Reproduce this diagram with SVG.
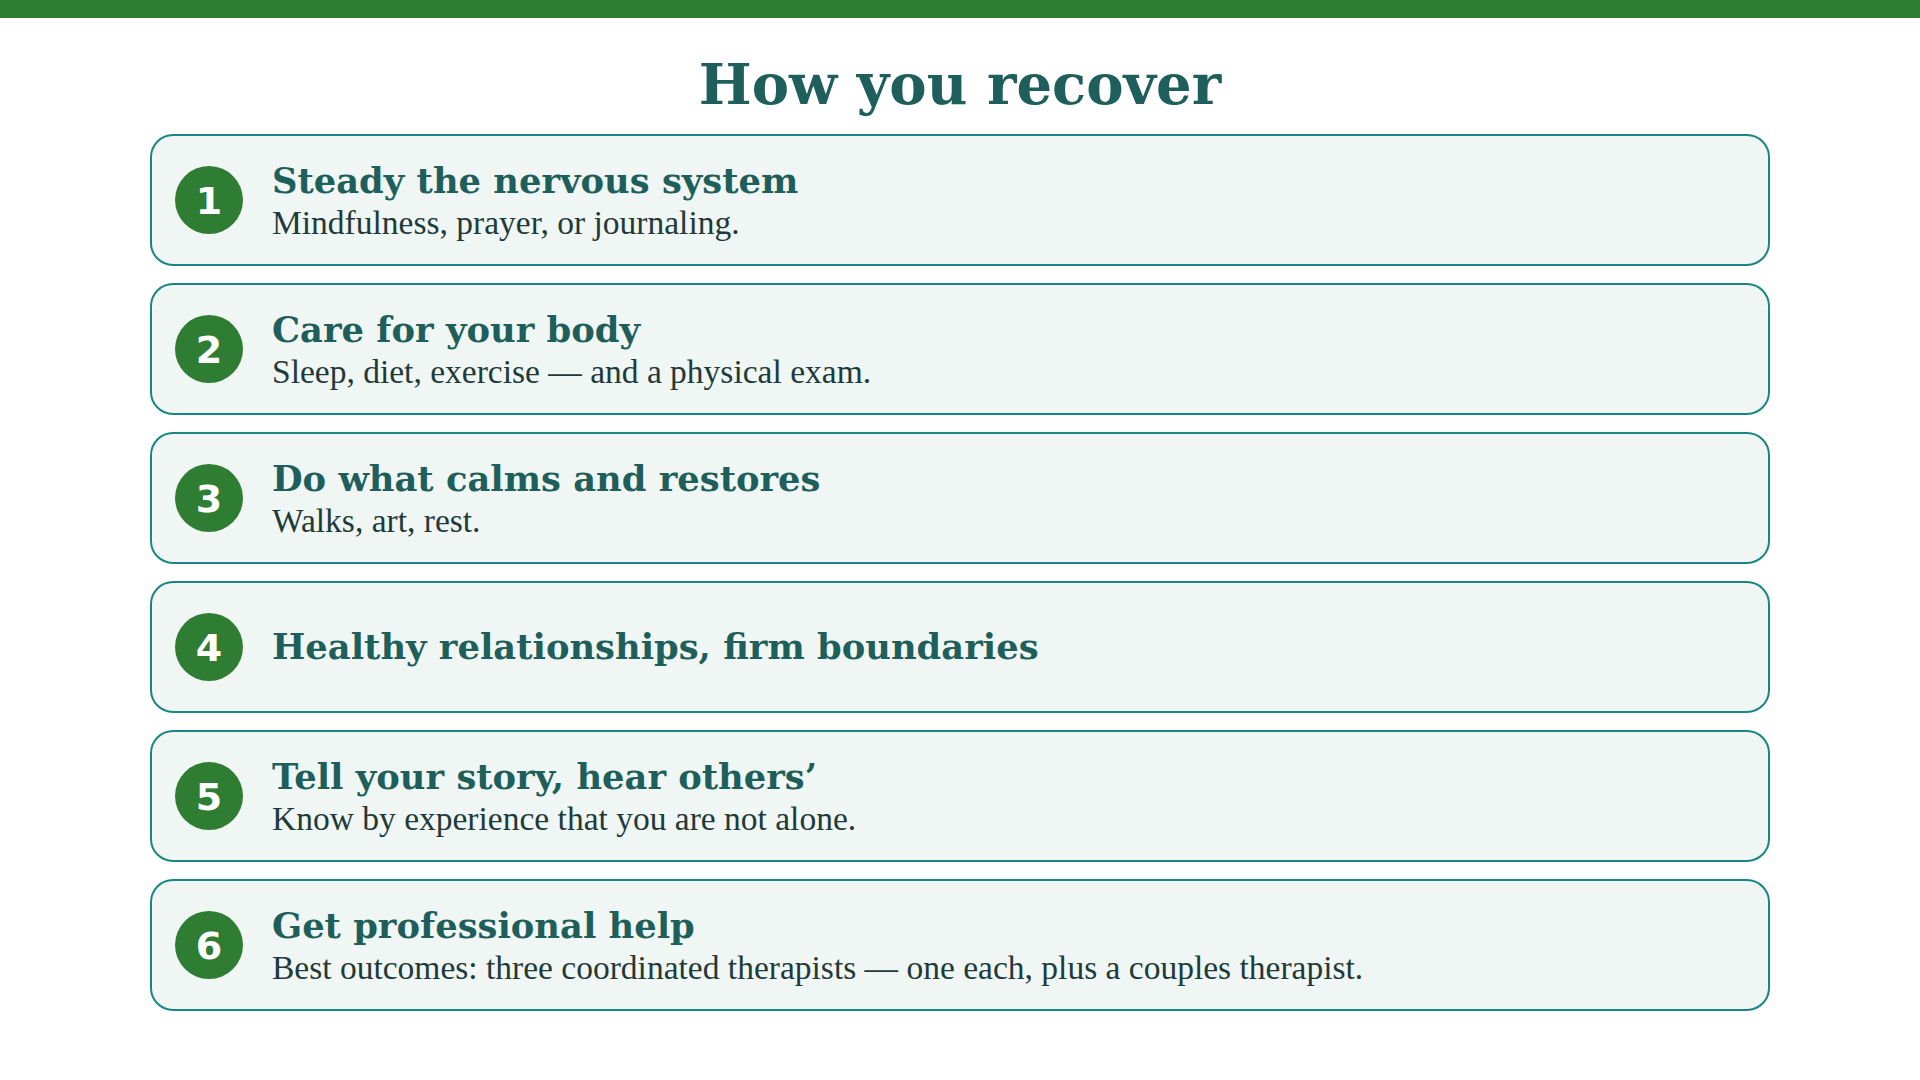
<svg xmlns="http://www.w3.org/2000/svg" width="1920" height="1080" viewBox="0 0 1920 1080">
<style>
.card{fill:#eff6f3;stroke:#1a8585;stroke-width:2}
.num{fill:#2e7d32}
.nt{font-family:"DejaVu Sans",sans-serif;font-weight:bold;font-size:38px;fill:#fff;text-anchor:middle}
.t{font-family:"DejaVu Serif","Liberation Serif",serif;font-weight:bold;font-size:35.3px;fill:#1f5f5b}
.s{font-family:"Liberation Serif",serif;font-size:33.5px;fill:#1f3a3a}
</style>
<rect x="0" y="0" width="1920" height="18" fill="#2e7d32"/>
<text x="960" y="104" text-anchor="middle" font-family="DejaVu Serif,serif" font-weight="bold" font-size="56" fill="#1f5f5b">How you recover</text>
<g id="n1"><rect class="card" x="151" y="135" width="1618" height="130" rx="22"/><circle class="num" cx="209" cy="200" r="34"/><text class="nt" x="209" y="214">1</text><text class="t" x="272" y="193">Steady the nervous system</text><text class="s" x="272" y="234">Mindfulness, prayer, or journaling.</text></g>
<g id="n2"><rect class="card" x="151" y="284" width="1618" height="130" rx="22"/><circle class="num" cx="209" cy="349" r="34"/><text class="nt" x="209" y="363">2</text><text class="t" x="272" y="342">Care for your body</text><text class="s" x="272" y="383">Sleep, diet, exercise — and a physical exam.</text></g>
<g id="n3"><rect class="card" x="151" y="433" width="1618" height="130" rx="22"/><circle class="num" cx="209" cy="498" r="34"/><text class="nt" x="209" y="512">3</text><text class="t" x="272" y="491">Do what calms and restores</text><text class="s" x="272" y="532">Walks, art, rest.</text></g>
<g id="n4"><rect class="card" x="151" y="582" width="1618" height="130" rx="22"/><circle class="num" cx="209" cy="647" r="34"/><text class="nt" x="209" y="661">4</text><text class="t" x="272" y="659">Healthy relationships, firm boundaries</text></g>
<g id="n5"><rect class="card" x="151" y="731" width="1618" height="130" rx="22"/><circle class="num" cx="209" cy="796" r="34"/><text class="nt" x="209" y="810">5</text><text class="t" x="272" y="789">Tell your story, hear others’</text><text class="s" x="272" y="830">Know by experience that you are not alone.</text></g>
<g id="n6"><rect class="card" x="151" y="880" width="1618" height="130" rx="22"/><circle class="num" cx="209" cy="945" r="34"/><text class="nt" x="209" y="959">6</text><text class="t" x="272" y="938">Get professional help</text><text class="s" x="272" y="979">Best outcomes: three coordinated therapists — one each, plus a couples therapist.</text></g>
<g id="connectors"/>
</svg>
